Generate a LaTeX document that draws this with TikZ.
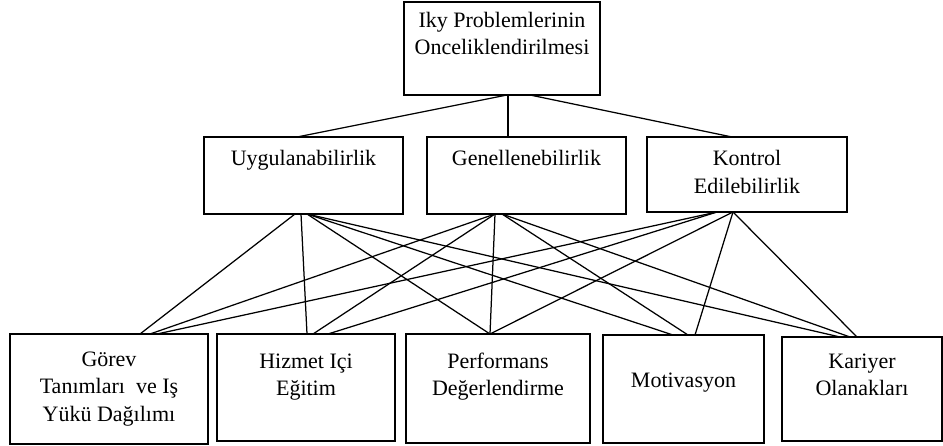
\documentclass[tikz,border=0pt]{standalone}
\usepackage{fontspec}
\setmainfont{Liberation Serif}
\newcommand{\boxtext}[4]{\parbox[t][#2pt][t]{#1pt}{\centering\vspace*{#3pt}\strut #4}}

\begin{document}
\begin{tikzpicture}[x=1pt, y=-1pt,
  box/.style={draw, line width=1.6pt, inner sep=0pt, outer sep=0pt, anchor=north west,
    font=\fontsize{22}{27.5}\selectfont},
  link/.style={line width=1.25pt}]
\useasboundingbox (0,0) rectangle (943,446);
\node[box] (top) at (404,2) {\boxtext{196}{93}{6}{Iky Problemlerinin\\Onceliklendirilmesi}};
\node[box] (uyg) at (204,137) {\boxtext{199}{77}{9.5}{Uygulanabilirlik}};
\node[box] (gen) at (427,137) {\boxtext{199}{77}{9.5}{Genellenebilirlik}};
\node[box] (kon) at (647,137) {\boxtext{200}{75}{9.5}{Kontrol\\Edilebilirlik}};
\node[box] (gor) at (10,334) {\boxtext{198}{110}{13}{Görev\\Tanımları~ ve Iş\\Yükü Dağılımı}};
\node[box] (hiz) at (217,334) {\boxtext{178}{107}{15}{Hizmet Içi\\Eğitim}};
\node[box] (per) at (406,334) {\boxtext{184}{109}{15}{Performans\\Değerlendirme}};
\node[box] (mot) at (603,335) {\boxtext{161}{108}{33}{Motivasyon}};
\node[box] (kar) at (782,337) {\boxtext{160}{104}{12}{Kariyer\\Olanakları}};
\foreach \a/\i/\b/\j in {top/103/uyg/93, top/104/gen/81, top/126/kon/85,
  uyg/91/gor/130, uyg/97/hiz/90, uyg/103/per/84, uyg/103/mot/70, uyg/103/kar/58,
  gen/68/gor/140, gen/68/hiz/96, gen/68/per/84, gen/75/mot/85, gen/75/kar/68,
  kon/70/gor/147, kon/70/hiz/111, kon/86/per/84, kon/86/mot/92, kon/86/kar/75} {
 \draw[link] ([xshift=\i]\a.south west) -- ([xshift=\j]\b.north west);
}
\end{tikzpicture}
\end{document}
